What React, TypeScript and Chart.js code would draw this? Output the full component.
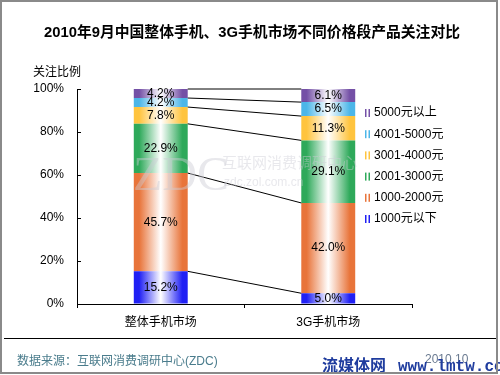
import React, { useEffect, useRef } from "react";
import { Chart, registerables } from "chart.js";

Chart.register(...registerables);

const categories = ["整体手机市场", "3G手机市场"];
const seriesNames = ["1000元以下", "1000-2000元", "2001-3000元", "3001-4000元", "4001-5000元", "5000元以上"];
const below1000 = [15.2, 5.0];
const from1000to2000 = [45.7, 42.0];
const from2001to3000 = [22.9, 29.1];
const from3001to4000 = [7.8, 11.3];
const from4001to5000 = [4.2, 6.5];
const above5000 = [4.2, 6.1];
const seriesValues = [below1000, from1000to2000, from2001to3000, from3001to4000, from4001to5000, above5000];
const seriesColors = ["#2020f4", "#e8743a", "#2ea95a", "#ffc43e", "#4cb6e8", "#7450a6"];
const yTicks = [0, 20, 40, 60, 80, 100];

const FONT = "'Liberation Sans', 'Noto Sans CJK SC', sans-serif";
const BAR_PCT = 0.322;

function makeGrad(ctx: CanvasRenderingContext2D, color: string, x0: number, x1: number) {
  const g = ctx.createLinearGradient(x0, 0, x1, 0);
  g.addColorStop(0, color);
  g.addColorStop(0.1, color);
  g.addColorStop(0.5, "#ffffff");
  g.addColorStop(0.9, color);
  g.addColorStop(1, color);
  return g;
}

const overlayPlugin = {
  id: "overlay",
  beforeDraw(chart: any) {
    const ctx = chart.ctx;
    ctx.save();
    ctx.fillStyle = "#ffffff";
    ctx.fillRect(0, 0, chart.width, chart.height);
    ctx.restore();
  },
  afterDatasetsDraw(chart: any) {
    const ctx: CanvasRenderingContext2D = chart.ctx;
    const area = chart.chartArea;
    ctx.save();
    // connector lines
    ctx.strokeStyle = "#000";
    ctx.lineWidth = 1;
    for (let d = 0; d < seriesValues.length; d++) {
      const meta = chart.getDatasetMeta(d);
      const a = meta.data[0] as any;
      const b = meta.data[1] as any;
      ctx.beginPath();
      ctx.moveTo(a.x + a.width / 2, a.y);
      ctx.lineTo(b.x - b.width / 2, b.y);
      ctx.stroke();
    }
    // faint watermark
    ctx.fillStyle = "rgba(205,205,212,0.45)";
    ctx.font = "48px 'Liberation Serif', serif";
    ctx.textBaseline = "alphabetic";
    ctx.textAlign = "left";
    ctx.fillText("ZDC", 133, 190);
    ctx.font = "15px 'Noto Sans CJK SC', sans-serif";
    ctx.fillText("互联网消费调研中心", 222, 168);
    ctx.font = "12px " + FONT;
    ctx.fillText("zdc.zol.com.cn", 224, 186);
    // value labels
    ctx.fillStyle = "#000";
    ctx.font = "12px " + FONT;
    ctx.textAlign = "center";
    ctx.textBaseline = "middle";
    for (let d = 0; d < seriesValues.length; d++) {
      const meta = chart.getDatasetMeta(d);
      meta.data.forEach((el: any, i: number) => {
        const v = seriesValues[d][i];
        ctx.fillText(v.toFixed(1) + "%", el.x, (el.y + el.base) / 2);
      });
    }
    // inward y ticks
    ctx.strokeStyle = "#000";
    yTicks.forEach((v) => {
      if (v === 0) return;
      const y = Math.round(chart.scales.y.getPixelForValue(v)) + 0.5;
      ctx.beginPath();
      ctx.moveTo(area.left, y);
      ctx.lineTo(area.left + 4, y);
      ctx.stroke();
    });
    ctx.restore();
  },
  afterDraw(chart: any) {
    const ctx: CanvasRenderingContext2D = chart.ctx;
    ctx.save();
    // title
    ctx.fillStyle = "#000";
    ctx.textAlign = "center";
    ctx.textBaseline = "middle";
    ctx.font = "bold 15px " + FONT;
    ctx.fillText("2010年9月中国整体手机、3G手机市场不同价格段产品关注对比", 252, 33, 416);
    // axis title
    ctx.textAlign = "left";
    ctx.font = "12px " + FONT;
    ctx.fillText("关注比例", 33, 73);
    // legend
    for (let k = 0; k < seriesNames.length; k++) {
      const d = seriesNames.length - 1 - k;
      const y = 113 + k * 21.2;
      ctx.fillStyle = makeGrad(ctx, seriesColors[d], 365, 370) as any;
      ctx.fillRect(365, y - 4, 5, 8);
      ctx.fillStyle = "#000";
      ctx.fillText(seriesNames[d], 374, y);
    }
    // separator
    ctx.strokeStyle = "#000";
    ctx.lineWidth = 1;
    ctx.beginPath();
    ctx.moveTo(4, 338.5);
    ctx.lineTo(496, 338.5);
    ctx.stroke();
    // footer
    ctx.fillStyle = "#4a7c8c";
    ctx.font = "12px " + FONT;
    ctx.fillText("数据来源：互联网消费调研中心(ZDC)", 17, 362);
    ctx.fillStyle = "#6a7a90";
    ctx.fillText("2010.10", 425, 360);
    // site watermark
    ctx.fillStyle = "#1f3c9e";
    ctx.textBaseline = "alphabetic";
    ctx.font = "bold 16px 'Noto Sans CJK SC', sans-serif";
    ctx.fillText("流媒体网", 322, 371);
    ctx.font = "bold 16px 'Liberation Mono', monospace";
    ctx.fillText("www.lmtw.com", 398, 371);
    // border
    ctx.strokeStyle = "#8a8a8a";
    ctx.lineWidth = 2;
    ctx.strokeRect(1, 1, 496, 372);
    ctx.restore();
  },
};

export default function App() {
  const ref = useRef<HTMLCanvasElement>(null);
  useEffect(() => {
    document.body.style.margin = "0";
    const canvas = ref.current!;
    const datasets = seriesValues.map((vals, d) => ({
      label: seriesNames[d],
      data: vals,
      borderWidth: 0,
      barPercentage: BAR_PCT,
      categoryPercentage: 1,
      backgroundColor: (c: any) => {
        const ch = c.chart;
        const xs = ch.scales && ch.scales.x;
        if (!xs || !ch.chartArea || c.dataIndex === undefined) return seriesColors[d];
        const cx = xs.getPixelForValue(c.dataIndex);
        const half = ((xs.right - xs.left) / categories.length) * BAR_PCT / 2;
        return makeGrad(ch.ctx, seriesColors[d], cx - half, cx + half);
      },
    }));
    const chart = new Chart(canvas, {
      type: "bar",
      data: { labels: categories, datasets },
      options: {
        responsive: false,
        animation: false,
        devicePixelRatio: 1,
        layout: { padding: { top: 89, right: 88, left: 0, bottom: 0 } },
        plugins: {
          legend: { display: false },
          title: { display: false },
          tooltip: { enabled: false },
        },
        scales: {
          x: {
            stacked: true,
            offset: true,
            grid: { display: true, drawOnChartArea: false, offset: true, tickLength: 4, color: "#000" },
            border: { display: true, color: "#000" },
            ticks: { color: "#000", font: { size: 12, family: FONT }, padding: 7 },
            afterFit: (s: any) => { s.height = 71; },
          },
          y: {
            stacked: true,
            min: 0,
            max: 100,
            afterBuildTicks: (s: any) => { s.ticks = yTicks.map((v) => ({ value: v })); },
            ticks: { color: "#000", font: { size: 12, family: FONT }, padding: 13, callback: (v: any) => v + "%" },
            grid: { display: true, drawOnChartArea: false, drawTicks: false },
            border: { display: true, color: "#000" },
            afterFit: (s: any) => { s.width = 77; },
          },
        },
      } as any,
      plugins: [overlayPlugin],
    });
    return () => chart.destroy();
  }, []);
  return (
    <div style={{ position: "absolute", left: 0, top: 0, width: 500, height: 375 }}>
      <canvas ref={ref} width={500} height={375} style={{ display: "block", width: 500, height: 375 }} />
    </div>
  );
}
